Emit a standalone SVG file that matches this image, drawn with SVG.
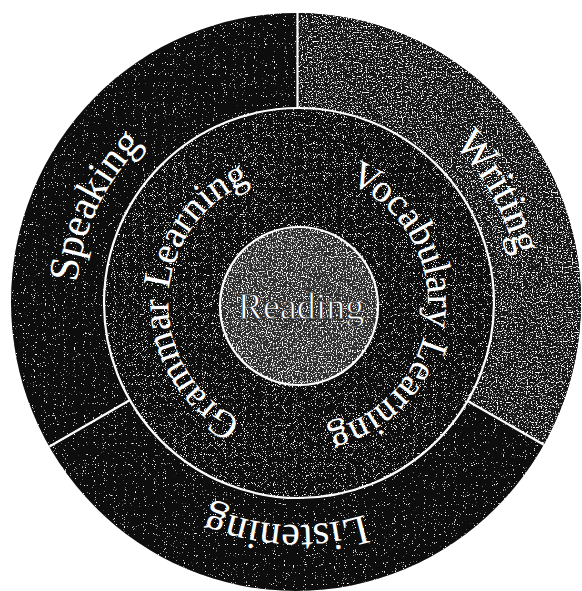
<svg xmlns="http://www.w3.org/2000/svg" width="582" height="591" viewBox="0 0 582 591">
  <style>
    .lbl { font-family: "Liberation Serif", "Times New Roman", serif; fill: #ffffff; }
    .outer { font-size: 42px; }
    .inner { font-size: 39px; }
    .div { stroke: #ffffff; stroke-width: 2.2; fill: none; }
  </style>
  <defs>
    <filter id="grain-sparse" x="0" y="0" width="1" height="1">
      <feTurbulence type="fractalNoise" baseFrequency="0.9" numOctaves="1" seed="4" result="n"/>
      <feColorMatrix in="n" type="matrix" values="0 0 0 0 1  0 0 0 0 1  0 0 0 0 1  14 0 0 0 -9.4" result="d"/>
      <feComposite in="d" in2="SourceAlpha" operator="in" result="dc"/>
      <feMerge><feMergeNode in="SourceGraphic"/><feMergeNode in="dc"/></feMerge>
    </filter>
    <filter id="grain-mid" x="0" y="0" width="1" height="1">
      <feTurbulence type="fractalNoise" baseFrequency="0.9" numOctaves="1" seed="7" result="n"/>
      <feColorMatrix in="n" type="matrix" values="0 0 0 0 1  0 0 0 0 1  0 0 0 0 1  12 0 0 0 -7.4" result="d"/>
      <feComposite in="d" in2="SourceAlpha" operator="in" result="dc"/>
      <feMerge><feMergeNode in="SourceGraphic"/><feMergeNode in="dc"/></feMerge>
    </filter>
    <filter id="grain-writing" x="0" y="0" width="1" height="1">
      <feTurbulence type="fractalNoise" baseFrequency="0.8" numOctaves="1" seed="11" result="n"/>
      <feColorMatrix in="n" type="matrix" values="0 0 0 0 1  0 0 0 0 1  0 0 0 0 1  10 0 0 0 -5.7" result="d"/>
      <feComposite in="d" in2="SourceAlpha" operator="in" result="dc"/>
      <feMerge><feMergeNode in="SourceGraphic"/><feMergeNode in="dc"/></feMerge>
    </filter>
    <filter id="grain-reading" x="0" y="0" width="1" height="1">
      <feTurbulence type="fractalNoise" baseFrequency="0.8" numOctaves="1" seed="13" result="n"/>
      <feColorMatrix in="n" type="matrix" values="0 0 0 0 1  0 0 0 0 1  0 0 0 0 1  9 0 0 0 -4.9" result="d"/>
      <feComposite in="d" in2="SourceAlpha" operator="in" result="dc"/>
      <feMerge><feMergeNode in="SourceGraphic"/><feMergeNode in="dc"/></feMerge>
    </filter>
    <clipPath id="clip-outer">
      <ellipse cx="296" cy="302" rx="285" ry="289"/>
    </clipPath>
    <path id="p-speaking" d="M115.1,428.7 A222,222 0 0 1 280.6,81.7"/>
    <path id="p-writing" d="M301.9,81 A222,222 0 0 1 488.3,417.3"/>
    <path id="p-listening" d="M484.2,423.9 A222,222 0 0 1 100.2,403.8"/>
    <path id="p-grammar" d="M282.2,432 A130,130 0 0 1 291.2,173.2"/>
    <path id="p-vocab" d="M320.1,174.9 A130,130 0 0 1 298.5,433"/>
  </defs>

  <rect width="582" height="591" fill="#ffffff"/>

  <!-- outer ring -->
  <g id="node-outer-ring">
    <ellipse cx="296" cy="302" rx="285" ry="289" fill="#0a0a0a" filter="url(#grain-sparse)"/>
  </g>
  <g id="node-writing">
    <polygon points="298,303 298,-10 600,-10 600,477.4" fill="#121212" clip-path="url(#clip-outer)" filter="url(#grain-writing)"/>
    <text class="lbl outer"><textPath href="#p-writing" startOffset="50%" text-anchor="middle">Writing</textPath></text>
  </g>
  <g id="node-speaking">
    <text class="lbl outer"><textPath href="#p-speaking" startOffset="50%" text-anchor="middle">Speaking</textPath></text>
  </g>
  <g id="node-listening">
    <text class="lbl outer"><textPath href="#p-listening" startOffset="50%" text-anchor="middle">Listening</textPath></text>
  </g>

  <!-- dividers -->
  <g id="connectors" clip-path="url(#clip-outer)">
    <line class="div" x1="297.5" y1="0" x2="297.5" y2="109"/>
    <line class="div" x1="129.1" y1="400.5" x2="40" y2="452"/>
    <line class="div" x1="466.9" y1="400.5" x2="560" y2="454"/>
  </g>

  <!-- inner ring -->
  <g id="node-inner-ring">
    <circle cx="299" cy="303" r="195" fill="#101010" filter="url(#grain-mid)"/>
    <circle cx="299" cy="303" r="195" fill="none" stroke="#ffffff" stroke-width="2.2"/>
  </g>
  <g id="node-grammar">
    <text class="lbl inner"><textPath href="#p-grammar" startOffset="50%" text-anchor="middle">Grammar Learning</textPath></text>
  </g>
  <g id="node-vocabulary">
    <text class="lbl inner"><textPath href="#p-vocab" startOffset="50%" text-anchor="middle">Vocabulary Learning</textPath></text>
  </g>

  <!-- center -->
  <g id="node-reading">
    <circle cx="299" cy="306" r="79" fill="#2e2e2e" filter="url(#grain-reading)"/>
    <circle cx="299" cy="306" r="79" fill="none" stroke="#ffffff" stroke-width="2.2"/>
    <text class="lbl" x="301" y="319" font-size="38" text-anchor="middle" stroke="#222222" stroke-width="0.8">Reading</text>
  </g>
</svg>
